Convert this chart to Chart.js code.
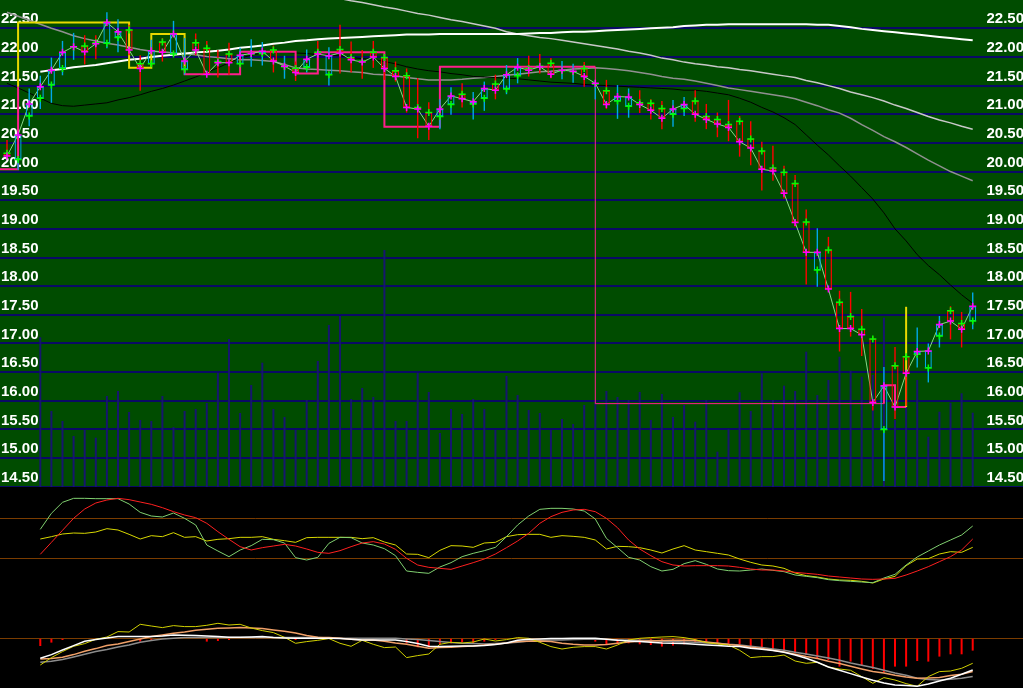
<!DOCTYPE html>
<html><head><meta charset="utf-8">
<script src="https://cdn.jsdelivr.net/npm/chart.js@4.4.1/dist/chart.umd.min.js"></script>
<style>
html,body{margin:0;padding:0;background:#000;width:1023px;height:688px;overflow:hidden}
#wrap{position:relative;width:1023px;height:688px}
canvas{position:absolute;left:0;display:block}
#c1{top:0;background:#004c00}
#c2{top:487px;background:#000}
#c3{top:600px;background:#000}
</style></head><body>
<div id="wrap">
<canvas id="c1" width="1023" height="487"></canvas>
<canvas id="c2" width="1023" height="113"></canvas>
<canvas id="c3" width="1023" height="88"></canvas>
</div>
<script>
// ---------------- data ----------------
const openP = [20.32,20.21,20.97,21.28,21.51,21.80,22.17,22.19,22.25,22.24, 22.34,22.47,21.88,21.88,22.26,22.05,21.78,22.25,22.15,21.92, 22.05,21.88,22.05,22.06,22.12,21.83,21.80,21.82,22.08,21.69, 22.13,21.99,21.93,22.08,21.99,21.76,21.67,21.12,21.03,20.96, 21.17,21.35,21.18,21.28,21.53,21.44,21.67,21.80,21.84,21.89, 21.76,21.74,21.80,21.53,21.41,21.23,21.14,21.20,21.19,21.10, 21.00,21.10,21.23,20.96,20.91,20.82,20.88,20.57,20.36,20.06, 19.99,19.79,19.12,18.28,18.63,17.72,17.47,17.25,17.08,15.50, 16.61,16.77,16.81,16.57,17.13,17.57,17.35,17.39];
const highP = [20.55,20.67,21.45,21.67,21.99,22.28,22.42,22.38,22.38,22.78, 22.66,22.56,22.03,22.30,22.33,22.63,22.33,22.41,22.28,22.12, 22.25,22.16,22.31,22.26,22.20,22.02,21.92,22.13,22.28,22.17, 22.56,22.27,22.12,22.28,22.02,21.92,21.80,21.63,21.21,21.26, 21.47,21.54,21.39,21.57,21.69,21.86,21.98,22.02,22.05,21.98, 21.93,21.88,21.91,21.56,21.60,21.51,21.45,21.42,21.26,21.23, 21.25,21.30,21.42,21.18,21.03,21.25,20.97,20.88,20.52,20.45, 20.10,19.94,19.34,19.01,18.86,17.92,17.90,17.60,17.12,16.59, 16.94,16.78,17.28,17.00,17.48,17.65,17.55,17.89];
const lowP = [20.25,20.03,20.79,21.09,21.20,21.68,21.95,21.87,21.96,22.15, 22.08,22.03,21.41,21.86,21.92,22.03,21.69,22.03,21.70,21.64, 21.69,21.86,21.83,21.85,21.73,21.62,21.58,21.73,22.03,21.50, 21.71,21.73,21.62,21.81,21.60,21.57,21.03,20.58,20.55,20.74, 20.99,21.12,20.91,21.06,21.26,21.35,21.54,21.66,21.71,21.63, 21.61,21.55,21.48,21.26,21.09,20.92,20.94,21.02,20.91,20.74, 20.78,20.97,20.87,20.74,20.60,20.53,20.26,20.11,19.67,19.84, 19.53,19.04,18.03,17.99,17.92,16.86,17.12,16.78,15.83,14.60, 15.68,15.91,16.58,16.32,16.93,17.07,16.93,17.25];
const closeP = [20.27,20.64,21.18,21.48,21.77,22.08,22.18,22.09,22.23,22.60, 22.44,22.12,21.80,22.11,22.08,22.40,21.93,22.12,21.70,21.90, 21.90,22.03,22.06,22.10,21.93,21.84,21.73,21.96,22.05,22.02, 22.07,21.95,21.91,22.00,21.80,21.66,21.12,21.09,20.79,21.09, 21.32,21.27,21.22,21.45,21.42,21.69,21.82,21.77,21.83,21.70, 21.77,21.75,21.66,21.54,21.17,21.31,21.30,21.17,21.07,20.93, 21.09,21.17,21.00,20.91,20.83,20.77,20.52,20.41,20.04,20.01, 19.62,19.11,18.59,18.59,17.95,17.26,17.26,17.15,15.97,16.26, 15.89,16.48,16.86,16.87,17.33,17.39,17.25,17.65];
const volume = [null,null,null,14970,7600,6600,5100,5700,4930,9100, 9600,7500,6700,6600,9100,6000,7600,7800,8400,11430, 14800,7400,10200,12430,7800,7000,5700,8700,12600,16200, 17100,8800,9900,9000,23700,6600,6600,11430,9500,5400, 7800,7300,8800,7800,5700,11100,9200,7700,7400,5700, 6800,6300,8200,8400,9600,9000,8700,9500,6700,9300, 7000,8200,6530,8700,3530,5770,9470,7600,11370,8700, 10130,9600,13530,9200,10700,13030,11630,11030,11200,16930, 6700,10700,10700,5030,7530,8430,9370,7430];
const maBlack = [21.54,21.46,21.37,21.28,21.19,21.15,21.14,21.16,21.18,21.20, 21.25,21.29,21.34,21.40,21.45,21.51,21.58,21.65,21.73,21.81, 21.90,21.98,22.03,22.07,22.09,22.08,22.07,22.06,22.04,22.03, 22.02,21.99,21.97,21.96,21.92,21.88,21.83,21.79,21.76,21.74, 21.71,21.69,21.66,21.65,21.64,21.63,21.62,21.60,21.58,21.56, 21.55,21.54,21.52,21.51,21.50,21.49,21.48,21.47,21.46,21.45, 21.44,21.42,21.42,21.40,21.37,21.34,21.28,21.21,21.12,21.04, 20.94,20.82,20.64,20.46,20.29,20.10,19.92,19.72,19.52,19.28, 19.00,18.79,18.55,18.36,18.20,18.02,17.85,17.70];
const maWhite = [null,null,null,21.74,21.77,21.79,21.82,21.84,21.86,21.89, 21.92,21.95,21.97,22.00,22.02,22.04,22.06,22.08,22.09,22.11, 22.13,22.16,22.18,22.20,22.23,22.25,22.28,22.29,22.31,22.32, 22.33,22.34,22.35,22.36,22.37,22.38,22.39,22.39,22.39,22.40, 22.40,22.40,22.40,22.40,22.40,22.40,22.40,22.41,22.42,22.42, 22.43,22.44,22.44,22.45,22.46,22.47,22.48,22.49,22.50,22.51, 22.52,22.54,22.55,22.56,22.56,22.57,22.57,22.57,22.57,22.57, 22.57,22.57,22.57,22.56,22.56,22.54,22.52,22.49,22.47,22.45, 22.43,22.41,22.39,22.37,22.35,22.33,22.31,22.29];
const maDark = [22.78,22.71,22.64,22.57,22.50,22.44,22.37,22.32,22.28,22.24, 22.21,22.17,22.13,22.10,22.09,22.07,22.06,22.04,22.01,21.99, 21.97,21.95,21.95,21.94,21.92,21.87,21.81,21.79,21.78,21.77, 21.76,21.74,21.73,21.70,21.69,21.67,21.64,21.62,21.60,21.60, 21.60,21.61,21.63,21.64,21.66,21.68,21.70,21.72,21.74,21.75, 21.77,21.79,21.80,21.81,21.80,21.78,21.76,21.73,21.70,21.66, 21.63,21.61,21.58,21.54,21.50,21.46,21.43,21.40,21.37,21.34, 21.31,21.27,21.21,21.15,21.08,21.02,20.93,20.82,20.72,20.61, 20.52,20.42,20.31,20.20,20.10,20.00,19.92,19.84];
const maLight = [null,null,null,null,null,null,null,null,null,null, null,null,null,null,null,null,null,null,null,null, null,null,null,null,null,null,null,null,null,null, 23.02,22.98,22.95,22.91,22.87,22.84,22.80,22.76,22.73,22.69, 22.65,22.62,22.58,22.54,22.50,22.44,22.40,22.37,22.34,22.32, 22.29,22.26,22.23,22.20,22.17,22.14,22.10,22.07,22.03,21.98, 21.95,21.91,21.88,21.86,21.83,21.81,21.78,21.76,21.73,21.70, 21.67,21.64,21.59,21.55,21.50,21.45,21.39,21.34,21.29,21.23, 21.16,21.10,21.03,20.96,20.90,20.85,20.79,20.74];
// stepped box trace: corner index, level, kind
const boxX = [-0.63, 1, 1, 11, 13, 16, 16, 21, 26, 28, 34, 39, 53, 53, 79, 79, 80, 81, 81];
const boxY = [20.04, 21.48, 22.60, 21.81, 22.40, 21.81, 21.70, 22.09, 21.71, 22.08, 20.78, 21.83, 21.83, 15.95, 15.95, 16.27, 15.89, 15.89, 17.64];
const boxKind = ['dn','up','up','up','up','dn','dn','dn','dn','dn','dn','dn','dnThin','dnThin','dn','dn','dn','up'];
const priceTicks = [14.5,15,15.5,16,16.5,17,17.5,18,18.5,19,19.5,20,20.5,21,21.5,22,22.5];
// KDJ-type oscillator
const oscFast = [null,null,null,63.5,87.5,104,110,110,109.5,109.5,109.5,101.5,89, 83.5,82,88,80,70,40,31,22.5,32.5,39, 48.5,48,43,21,17.5,21.5,42.5,51.5,51,43, 40,34.5,24,1,-1,-2.5,7,13.5,22.5,27.5, 31.5,36.5,52.5,70,83.5,93.5,95,95,94,91, 79,50,36,21.5,17.5,7.5,1,3.5,12,16.5, 11,4,1.5,1,2.5,4,2,0,-5,-7, -9,-12,-13.5,-14.5,-15.5,-16.5,-9.5,-4,10,22, 31,40,47.5,55,68.5];
const oscSlow = [null,null,null,26,44,62,80,94,103,107.5,110,108,104.5, 101,96,90,85,81,72.5,60,48.5,37.5,32.5, 36,38.5,41,38.5,34,29,27.5,31.5,37.5,43, 45,41.5,33.5,20,10,6.5,5,3.5,8.5,13.5, 19,26.5,36,46,57.5,72.5,82.5,89,92.5,93.5, 90,80,66,47.5,34,24,15,10,8.5,9, 9,9,8.5,6.5,4,2.5,2.5,1,-1,-2.5, -4,-6.5,-8,-9.5,-11,-11.5,-11,-10,-5,1, 7.5,15,22.5,32.5,49];
const oscThird = [null,null,null,49,52.5,56.5,58,57.5,59.5,64.5,62.5,56,49, 54,52.5,58.5,51.5,52.5,46,48.5,49.5,51.5,51.5, 52.5,48.5,46.5,44,51,51.5,51.5,51.5,51.5,49.5, 51,44.5,40,26.5,26,21,32,39,38.5,36.5, 43,44,52.5,55.5,56,56,51.5,54,53,51.5, 47.5,34,38,37.5,36,32.5,28,34,39,32.5, 30,27.5,25,19,14,10,8.5,5,-2,-6, -8,-11,-12.5,-13,-14.5,-17,-11,-7,9,19, 19.5,26.5,30,29,36.5];
const oscLevels = [20, 80];
// MACD-type panel
const macdDif = [null,null,null,-0.200,-0.163,-0.117,-0.073,-0.030,-0.013,0.003,0.017,0.017,0.017, 0.017,0.023,0.033,0.030,0.027,0.023,0.017,0.010,0.010,0.013, 0.017,0.007,0.003,0,0,0,0,-0.003,-0.010,-0.017, -0.017,-0.017,-0.017,-0.033,-0.053,-0.080,-0.083,-0.080,-0.077,-0.077, -0.073,-0.063,-0.047,-0.020,-0.010,-0.007,-0.003,-0.003,0,0, 0,-0.010,-0.020,-0.027,-0.033,-0.040,-0.047,-0.050,-0.053,-0.060, -0.067,-0.073,-0.080,-0.083,-0.100,-0.110,-0.123,-0.140,-0.167,-0.200, -0.240,-0.287,-0.320,-0.353,-0.387,-0.420,-0.447,-0.467,-0.473,-0.480, -0.457,-0.427,-0.400,-0.360,-0.317];
const macdDea = [null,null,null,-0.207,-0.203,-0.190,-0.163,-0.130,-0.103,-0.073,-0.057,-0.033,-0.007, 0.017,0.033,0.050,0.063,0.080,0.090,0.100,0.103,0.107,0.103, 0.097,0.083,0.070,0.053,0.027,0.010,0.007,0,-0.010,-0.017, -0.017,-0.030,-0.047,-0.060,-0.080,-0.100,-0.093,-0.090,-0.083,-0.077, -0.067,-0.060,-0.047,-0.033,-0.030,-0.027,-0.033,-0.050,-0.060,-0.067, -0.067,-0.063,-0.050,-0.037,-0.030,-0.027,-0.023,-0.020,-0.020,-0.023, -0.037,-0.050,-0.063,-0.073,-0.090,-0.103,-0.120,-0.137,-0.160,-0.183, -0.203,-0.230,-0.253,-0.280,-0.307,-0.333,-0.347,-0.370,-0.387,-0.400, -0.397,-0.393,-0.373,-0.360,-0.333];
const macdSlow = [null,null,null,-0.240,-0.230,-0.213,-0.187,-0.160,-0.133,-0.113,-0.087,-0.067,-0.040, -0.023,-0.007,0,0.007,0.007,0.007,0.007,0.007,0.007,0.007, 0.007,0.007,0.007,0.007,0.007,0.007,0.003,0,0,0, 0,0,0,-0.007,-0.013,-0.023,-0.033,-0.043,-0.050,-0.053, -0.057,-0.053,-0.047,-0.040,-0.027,-0.020,-0.017,-0.017,-0.013,-0.010, -0.007,-0.010,-0.017,-0.017,-0.020,-0.023,-0.030,-0.033,-0.037,-0.040, -0.047,-0.050,-0.060,-0.067,-0.080,-0.093,-0.107,-0.120,-0.140,-0.157, -0.177,-0.197,-0.220,-0.247,-0.270,-0.293,-0.320,-0.347,-0.370,-0.400, -0.413,-0.417,-0.410,-0.400,-0.383];
const macdFast = [null,null,null,-0.267,-0.193,-0.133,-0.080,-0.053,-0.010,0.013,0.067,0.063,0.140, 0.123,0.107,0.127,0.117,0.117,0.130,0.150,0.133,0.140,0.103, 0.077,0.057,0.010,-0.050,-0.033,-0.020,-0.003,-0.050,-0.080,-0.020, -0.060,-0.093,-0.087,-0.193,-0.173,-0.157,-0.060,-0.040,-0.047,-0.037, -0.007,-0.027,-0.013,0.007,0,-0.040,-0.083,-0.107,-0.090,-0.083, -0.083,-0.107,-0.067,-0.017,0,0.007,0.013,0.017,0.007,-0.013, -0.043,-0.057,-0.067,-0.120,-0.193,-0.183,-0.183,-0.167,-0.227,-0.250, -0.240,-0.287,-0.307,-0.320,-0.383,-0.450,-0.393,-0.417,-0.453,-0.480, -0.383,-0.333,-0.327,-0.300,-0.250];
const macdHist = [null,null,null,-0.077,-0.043,-0.017,null,null,null,null,null,null,-0.033, -0.017,null,null,null,null,-0.033,-0.027,-0.017,null,null, null,null,null,-0.017,null,null,null,null,null,null, null,null,null,-0.050,-0.090,-0.090,-0.060,-0.050,-0.040,-0.050, -0.033,-0.017,null,null,null,null,null,null,null,null, -0.033,-0.067,-0.060,-0.050,-0.060,-0.067,-0.083,-0.073,-0.060,-0.040, -0.033,-0.053,-0.057,-0.060,-0.083,-0.100,-0.110,-0.127,-0.150,-0.167, -0.200,-0.217,-0.283,-0.233,-0.267,-0.307,-0.340,-0.283,-0.283,-0.227, -0.233,-0.183,-0.160,-0.160,-0.123];
const macdLevels = [0];

// ---------------- styling / helpers ----------------
const RED = '#ff0000', CYAN = '#00a8e8', YEL = '#e8d800', PINK = '#ff1e8c';
const X_MIN = -0.63, X_MAX = 91.53;
const xy = arr => arr.map((v, i) => ({x: i, y: v}));
const up = closeP.map((c, i) => c >= openP[i]);
const candleColor = up.map(u => u ? CYAN : RED);
function zeroFit(s){ s.width = 0; s.paddingTop = 0; s.paddingBottom = 0; s.paddingLeft = 0; s.paddingRight = 0; }
const xScale = {type:'linear', min:X_MIN, max:X_MAX, offset:false, bounds:'data', display:false, grid:{display:false}};
const base = {responsive:false, animation:false, devicePixelRatio:1, events:[], layout:{padding:0, autoPadding:false},
  plugins:{legend:{display:false}, tooltip:{enabled:false}}};
const labelFont = {family:'Liberation Sans', size:15, weight:'bold'};
const P_MIN = 14.495, P_MAX = 22.994;
const priceAxis = (pos, grid) => ({
  type:'linear', position:pos, min:P_MIN, max:P_MAX, bounds:'data', beginAtZero:false,
  afterFit: zeroFit,
  afterBuildTicks: s => { s.ticks = priceTicks.map(v => ({value:v})); },
  grid: grid ? {color:'#0a0a66', lineWidth:2, drawTicks:false} : {display:false, drawTicks:false},
  border:{display:false},
  ticks:{mirror:true, padding:1, labelOffset:-9, color:'#ffffff', font:labelFont, autoSkip:false,
    callback: v => Number(v).toFixed(2)}
});
const lineDs = (data, color, width, order, axis) => ({type:'line', data: xy(data), yAxisID: axis || 'y',
  borderColor: color, borderWidth: width, pointRadius: 0, order: order, spanGaps:false});

// ---------------- main price panel ----------------
new Chart(document.getElementById('c1'), {
  type:'bar',
  data:{datasets:[
    {type:'bar', data: xy(volume), yAxisID:'yv', backgroundColor:'#16166e', barThickness:2, grouped:false, inflateAmount:0, order:50},
    lineDs(maLight, '#c8c8c8', 1.5, 40),
    lineDs(maDark, '#909090', 1.5, 39),
    lineDs(maWhite, '#ffffff', 2, 38),
    lineDs(maBlack, '#000000', 1, 37),
    {type:'line', data: boxX.map((x, i) => ({x: x, y: boxY[i]})), yAxisID:'y', stepped:'before', pointRadius:0,
      borderColor: PINK, borderWidth: 2, order: 30,
      segment:{
        borderColor: c => boxKind[c.p0DataIndex] === 'up' ? YEL : PINK,
        borderWidth: c => boxKind[c.p0DataIndex] === 'dnThin' ? 1 : 2
      }},
    lineDs(closeP, '#88d888', 1, 25),
    {type:'bar', data: openP.map((o, i) => ({x:i, y:[Math.max(o, closeP[i]), highP[i]]})), yAxisID:'y',
      backgroundColor: candleColor, barThickness:1.4, grouped:false, borderWidth:0, inflateAmount:0, order:20},
    {type:'bar', data: openP.map((o, i) => ({x:i, y:[lowP[i], Math.min(o, closeP[i])]})), yAxisID:'y',
      backgroundColor: candleColor, barThickness:1.4, grouped:false, borderWidth:0, inflateAmount:0, order:20},
    {type:'bar', data: openP.map((o, i) => ({x:i, y:[o, closeP[i]]})), yAxisID:'y',
      backgroundColor:'rgba(0,0,0,0)', borderColor: candleColor, borderWidth:1.2, borderSkipped:false,
      barThickness:7, grouped:false, inflateAmount:0, order:15},
    {type:'line', data: xy(openP), yAxisID:'y', showLine:false, pointStyle:'cross', pointRadius:3.5,
      pointBorderColor:'#00ff00', pointBorderWidth:1.5, order:10},
    {type:'line', data: xy(closeP), yAxisID:'y', showLine:false, pointStyle:'cross', pointRadius:3.5,
      pointBorderColor:'#ff00ff', pointBorderWidth:1.5, order:9}
  ]},
  options: Object.assign({}, base, {
    scales:{
      x: xScale,
      y: priceAxis('left', true),
      y2: priceAxis('right', false),
      yv: {type:'linear', display:false, min:0, max:48700, bounds:'data'}
    }
  })
});

// ---------------- oscillator panel ----------------
const levelAxis = (min, max, levels) => ({
  type:'linear', min:min, max:max, bounds:'data', beginAtZero:false, afterFit: zeroFit,
  afterBuildTicks: s => { s.ticks = levels.map(v => ({value:v})); },
  grid:{color:'#7a3c00', lineWidth:1, drawTicks:false}, border:{display:false},
  ticks:{display:false}
});
new Chart(document.getElementById('c2'), {
  type:'line',
  data:{datasets:[
    lineDs(oscThird, '#d8d800', 1, 3),
    lineDs(oscFast, '#80d070', 1, 2),
    lineDs(oscSlow, '#ff2020', 1, 1)
  ]},
  options: Object.assign({}, base, {scales:{x: xScale, y: levelAxis(-42.5, 127, oscLevels)}})
});

// ---------------- MACD panel ----------------
new Chart(document.getElementById('c3'), {
  type:'bar',
  data:{datasets:[
    {type:'bar', data: xy(macdHist), yAxisID:'y', backgroundColor:'#ff0000', barThickness:2, grouped:false, inflateAmount:0, order:10},
    lineDs(macdSlow, '#8c8c8c', 1.5, 6),
    lineDs(macdDea, '#f0a068', 1.5, 5),
    lineDs(macdFast, '#d0d000', 1, 4),
    lineDs(macdDif, '#ffffff', 1.5, 3)
  ]},
  options: Object.assign({}, base, {scales:{x: xScale, y: levelAxis(-0.497, 0.383, macdLevels)}})
});
</script>
</body></html>
